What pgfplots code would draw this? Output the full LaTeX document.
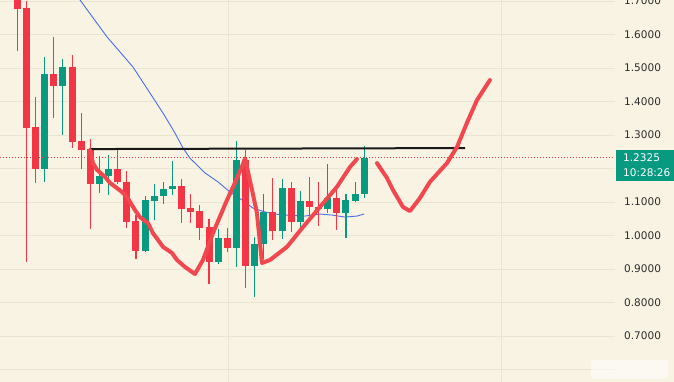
\documentclass[border=0pt]{standalone}
\usepackage{pgfplots}
\usepackage{pgfplotstable}
\usepackage{fontspec}
\setmainfont{DejaVu Sans}
\pgfplotsset{compat=1.18}
\definecolor{bg}{RGB}{248,243,227}
\definecolor{gridc}{RGB}{234,228,211}
\definecolor{cred}{RGB}{242,54,69}
\definecolor{cgreen}{RGB}{8,153,129}
\definecolor{penred}{RGB}{240,72,78}
\definecolor{mablue}{RGB}{75,110,230}
\definecolor{labc}{RGB}{45,45,45}

% red (falling) candles
\pgfplotstableread{
i o h l c
0 1.750 1.780 1.551 1.676
1 1.679 1.700 0.921 1.321
2 1.324 1.413 1.157 1.199
4 1.482 1.593 1.351 1.446
6 1.503 1.539 1.261 1.279
7 1.282 1.366 1.199 1.255
8 1.258 1.288 1.019 1.154
11 1.199 1.258 1.155 1.160
12 1.160 1.193 1.022 1.040
13 1.043 1.061 0.930 0.954
18 1.148 1.169 1.037 1.079
19 1.082 1.124 1.037 1.070
20 1.073 1.091 0.987 1.022
21 1.025 1.049 0.855 0.921
23 0.993 1.022 0.951 0.963
25 1.225 1.255 0.843 0.909
28 1.070 1.172 0.987 1.013
30 1.142 1.160 1.010 1.040
32 1.103 1.175 1.061 1.085
33 1.085 1.160 1.027 1.079
35 1.112 1.145 1.016 1.067
}\downtab

% green (rising) candles
\pgfplotstableread{
i o h l c
3 1.199 1.533 1.160 1.482
5 1.446 1.527 1.300 1.503
9 1.154 1.237 1.127 1.178
10 1.178 1.240 1.121 1.199
14 0.954 1.118 0.951 1.106
15 1.103 1.154 1.046 1.118
16 1.118 1.160 1.094 1.139
17 1.139 1.222 1.121 1.148
22 0.921 1.019 0.915 0.993
24 0.963 1.282 0.906 1.225
26 0.909 0.996 0.816 0.975
27 0.975 1.124 0.930 1.070
29 1.013 1.169 0.990 1.142
31 1.040 1.133 1.010 1.103
34 1.079 1.213 1.067 1.112
36 1.067 1.124 0.993 1.106
37 1.103 1.160 1.100 1.124
38 1.124 1.267 1.112 1.231
}\uptab

% moving average
\pgfplotstableread{
x y
6.32 1.721
6.87 1.703
9.82 1.593
12.67 1.503
15.95 1.366
17.27 1.306
18.15 1.261
18.91 1.231
20.55 1.187
21.98 1.160
23.29 1.130
24.61 1.106
25.81 1.082
27.13 1.070
28.22 1.064
29.32 1.061
31.51 1.058
33.15 1.064
34.47 1.061
35.89 1.055
37.21 1.058
37.97 1.064
}\matab

% hand-drawn pattern, part 1
\pgfplotstableread{
x y
7.96 1.255
8.29 1.216
8.73 1.196
9.61 1.175
10.15 1.157
11.47 1.130
12.02 1.115
12.89 1.076
13.43 1.055
14.31 1.037
14.86 1.007
15.41 0.987
15.96 0.966
16.94 0.948
17.49 0.927
18.37 0.906
19.46 0.885
20.34 0.927
21.43 1.007
22.97 1.106
23.84 1.157
24.72 1.213
24.94 1.231
25.71 1.136
26.25 1.067
26.58 0.978
26.80 0.918
27.68 0.927
29.54 0.966
31.29 1.025
33.15 1.085
35.01 1.145
36.43 1.204
37.20 1.228
}\penA

% hand-drawn pattern, part 2
\pgfplotstableread{
x y
39.40 1.216
40.49 1.172
41.15 1.136
42.25 1.085
43.01 1.073
44.11 1.112
45.20 1.160
47.06 1.216
48.16 1.264
49.25 1.336
50.35 1.404
51.77 1.464
}\penB

\begin{document}
\begin{tikzpicture}[x=1pt,y=1pt]
\useasboundingbox (0,0) rectangle (674,382);
\fill[bg] (0,0) rectangle (674,382);
\begin{axis}[
  at={(0,0)}, anchor=south west,
  scale only axis, width=615pt, height=382pt,
  xmin=-1.895, xmax=65.47, ymin=0.5627, ymax=1.703,
  axis line style={draw=none},
  xtick={23.08,52.98}, xticklabels={},
  ytick={0.6,0.7,0.8,0.9,1.0,1.1,1.2,1.3,1.4,1.5,1.6,1.7},
  yticklabels={,0.7000,0.8000,0.9000,1.0000,1.1000,,1.3000,1.4000,1.5000,1.6000,1.7000},
  yticklabel pos=right,
  yticklabel style={anchor=west, inner sep=0pt, xshift=9pt, font=\fontsize{10.5}{12}\selectfont, text=labc},
  major tick length=0pt,
  tick style={draw=none},
  grid=major,
  major grid style={draw=gridc, line width=0.9pt},
  clip=true,
]
% moving average
\addplot[mablue, line width=0.9pt, forget plot] table[x=x,y=y] {\matab};

% wicks
\addplot[draw=none, mark=none, forget plot,
  error bars/.cd, y dir=both, y explicit, error mark=none,
  error bar style={draw=cred, solid, line width=1.1pt}]
  table[x=i, y expr={(\thisrow{h}+\thisrow{l})/2}, y error expr={(\thisrow{h}-\thisrow{l})/2}] {\downtab};
\addplot[draw=none, mark=none, forget plot,
  error bars/.cd, y dir=both, y explicit, error mark=none,
  error bar style={draw=cgreen, solid, line width=1.1pt}]
  table[x=i, y expr={(\thisrow{h}+\thisrow{l})/2}, y error expr={(\thisrow{h}-\thisrow{l})/2}] {\uptab};
% bodies
\addplot[draw=none, mark=none, forget plot,
  error bars/.cd, y dir=both, y explicit, error mark=none,
  error bar style={draw=cred, solid, line width=7pt}]
  table[x=i, y expr={(\thisrow{o}+\thisrow{c})/2}, y error expr={max(abs(\thisrow{o}-\thisrow{c})/2,0.0016)}] {\downtab};
\addplot[draw=none, mark=none, forget plot,
  error bars/.cd, y dir=both, y explicit, error mark=none,
  error bar style={draw=cgreen, solid, line width=7pt}]
  table[x=i, y expr={(\thisrow{o}+\thisrow{c})/2}, y error expr={max(abs(\thisrow{o}-\thisrow{c})/2,0.0016)}] {\uptab};

% current price dotted line
\addplot[cred, line width=0.8pt, dash pattern=on 1.2pt off 1.8pt, forget plot] coordinates {(-1.895,1.2325) (65.47,1.2325)};
% neckline
\addplot[black!90, line width=2pt, forget plot] coordinates {(7.96,1.258) (49.04,1.261)};
% hand drawn pattern
\addplot[penred, line width=4pt, line cap=round, line join=round, forget plot] table[x=x,y=y] {\penA};
\addplot[penred, line width=4pt, line cap=round, line join=round, forget plot] table[x=x,y=y] {\penB};

\coordinate (pbox) at (axis cs:65.47,1.2325);
\end{axis}
\fill[cgreen] (616,201) rectangle (674,232);
\node[anchor=west, inner sep=0pt, text=white, font=\fontsize{10.5}{12}\selectfont] at (623,224) {1.2325};
\node[anchor=west, inner sep=0pt, text=white, font=\fontsize{10.5}{12}\selectfont] at (623,209) {10:28:26};
\fill[white, opacity=0.55, rounded corners=3pt] (591,3) rectangle (668,22);
\end{tikzpicture}
\end{document}
